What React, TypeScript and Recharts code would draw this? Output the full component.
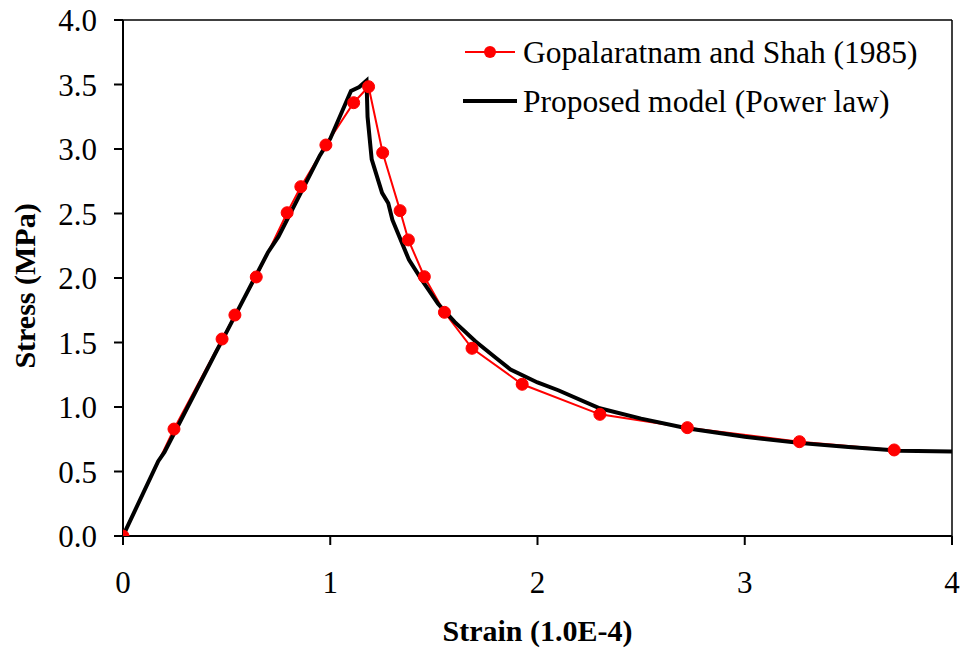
import {
  LineChart,
  Line,
  XAxis,
  YAxis,
  ReferenceLine,
} from "recharts";

// Gopalaratnam and Shah (1985) test points
const refStrain = [0, 0.246, 0.478, 0.54, 0.643, 0.792, 0.858, 0.979, 1.113, 1.185, 1.253, 1.337, 1.377, 1.454, 1.551, 1.684, 1.926, 2.301, 2.723, 3.264, 3.721];
const refStress = [0, 0.829, 1.527, 1.713, 2.008, 2.506, 2.708, 3.031, 3.359, 3.483, 2.971, 2.522, 2.295, 2.01, 1.734, 1.455, 1.176, 0.943, 0.84, 0.731, 0.667];

// proposed model (power law) curve
const modelStrain = [0, 0.17, 0.2, 0.45, 0.48, 0.7, 0.75, 0.95, 1.0, 1.1, 1.14, 1.175, 1.18, 1.2, 1.25, 1.28, 1.3, 1.38, 1.44, 1.52, 1.6, 1.7, 1.8, 1.87, 2.0, 2.1, 2.3, 2.5, 2.72, 3.0, 3.27, 3.5, 3.75, 4.0];
const modelStress = [0, 0.58, 0.65, 1.43, 1.52, 2.2, 2.32, 2.95, 3.08, 3.45, 3.48, 3.53, 3.25, 2.92, 2.66, 2.58, 2.45, 2.14, 1.99, 1.8, 1.66, 1.51, 1.38, 1.29, 1.19, 1.13, 0.99, 0.91, 0.835, 0.77, 0.72, 0.69, 0.66, 0.655];

const xTicks = [0, 1, 2, 3, 4];
const yTicks = [0, 0.5, 1, 1.5, 2, 2.5, 3, 3.5, 4];

const refData = refStrain.map((x, i) => ({ x, y: refStress[i] }));
const modelData = modelStrain.map((x, i) => ({ x, y: modelStress[i] }));

const FONT = "'Liberation Serif', 'Times New Roman', serif";
const RED = "#ff0000";

// legend drawn as an overlay so it doesn't take space from the plot
function LegendBox() {
  return (
    <svg width={480} height={100} style={{ position: "absolute", left: 455, top: 28 }}>
      <line x1={10} y1={24} x2={60} y2={24} stroke={RED} strokeWidth={2} />
      <circle cx={35} cy={24} r={6} fill={RED} />
      <text x={68} y={24} dy="0.35em" fontFamily={FONT} fontSize={31.5} fill="#000">
        Gopalaratnam and Shah (1985)
      </text>
      <line x1={8} y1={73} x2={62} y2={73} stroke="#000" strokeWidth={4} />
      <text x={68} y={73} dy="0.35em" fontFamily={FONT} fontSize={31.5} fill="#000">
        Proposed model (Power law)
      </text>
    </svg>
  );
}

export default function App() {
  const tickStyle = { fontSize: 31, fontFamily: FONT, fill: "#000" };
  return (
    <div style={{ position: "absolute", left: 0, top: 0, width: 964, height: 652, background: "#fff" }}>
      <LineChart width={964} height={652} margin={{ top: 20, right: 12, bottom: 0, left: 0 }}>
        <XAxis
          type="number"
          dataKey="x"
          domain={[0, 4]}
          ticks={xTicks}
          height={116}
          tick={tickStyle}
          tickSize={9}
          tickMargin={26}
          axisLine={{ stroke: "#000", strokeWidth: 2 }}
          tickLine={{ stroke: "#000", strokeWidth: 2 }}
          allowDataOverflow
          label={{
            content: ({ viewBox }: any) => (
              <text
                x={viewBox.x + viewBox.width / 2}
                y={viewBox.y + 105}
                textAnchor="middle"
                fontFamily={FONT}
                fontSize={30}
                fontWeight="bold"
                fill="#000"
              >
                Strain (1.0E-4)
              </text>
            ),
          }}
        />
        <YAxis
          type="number"
          dataKey="y"
          domain={[0, 4]}
          ticks={yTicks}
          width={123}
          tick={tickStyle}
          tickFormatter={(v: number) => v.toFixed(1)}
          tickSize={9}
          tickMargin={17}
          axisLine={{ stroke: "#000", strokeWidth: 2 }}
          tickLine={{ stroke: "#000", strokeWidth: 2 }}
          allowDataOverflow
          label={{
            content: ({ viewBox }: any) => {
              const cx = 24;
              const cy = viewBox.y + viewBox.height / 2 + 8;
              return (
                <text
                  x={cx}
                  y={cy}
                  transform={`rotate(-90 ${cx} ${cy})`}
                  textAnchor="middle"
                  dominantBaseline="central"
                  fontFamily={FONT}
                  fontSize={30}
                  fontWeight="bold"
                  fill="#000"
                >
                  Stress (MPa)
                </text>
              );
            },
          }}
        />
        <ReferenceLine y={4} stroke="#000" strokeWidth={1.5} />
        <ReferenceLine x={4} stroke="#000" strokeWidth={1.5} />
        <Line
          data={refData}
          dataKey="y"
          type="linear"
          stroke={RED}
          strokeWidth={2}
          dot={{ r: 6, fill: RED, stroke: RED, strokeWidth: 1 }}
          activeDot={false}
          isAnimationActive={false}
        />
        <Line
          data={modelData}
          dataKey="y"
          type="linear"
          stroke="#000"
          strokeWidth={4}
          dot={false}
          activeDot={false}
          isAnimationActive={false}
        />
      </LineChart>
      <LegendBox />
    </div>
  );
}
